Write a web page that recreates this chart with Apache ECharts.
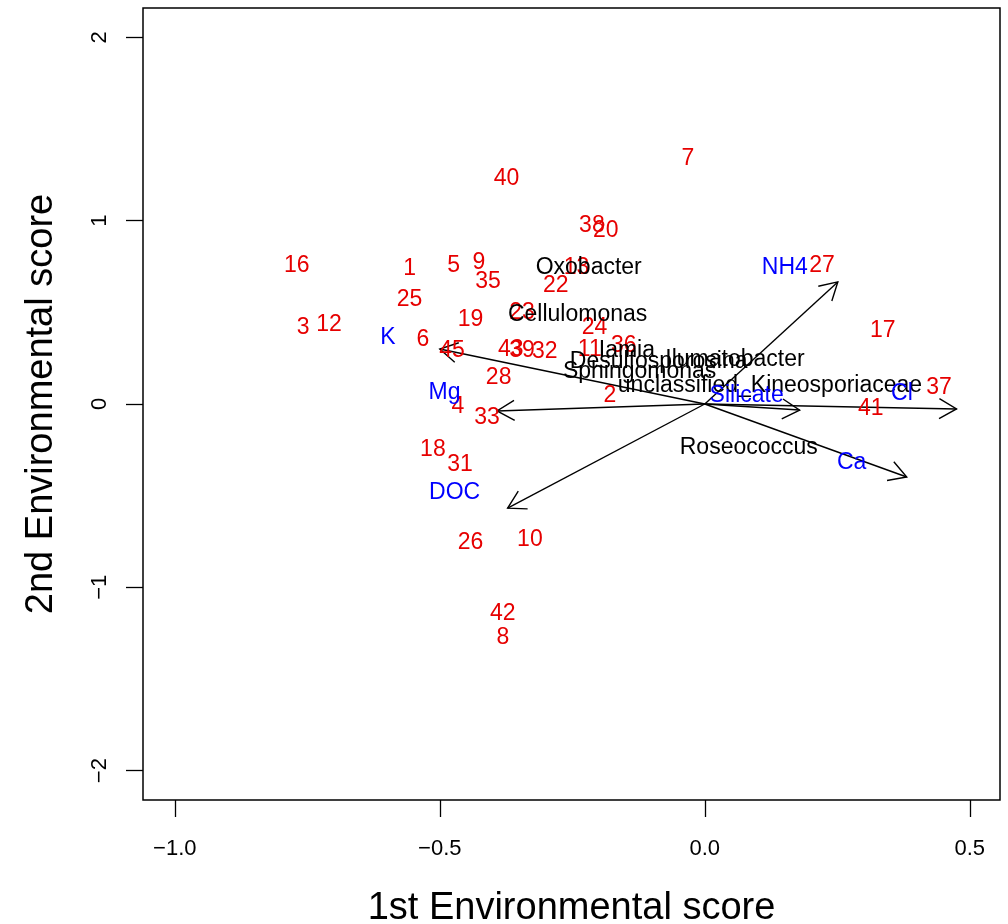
<!DOCTYPE html>
<html>
<head>
<meta charset="utf-8">
<script src="https://cdn.jsdelivr.net/npm/echarts@6/dist/echarts.min.js"></script>
<style>html,body{margin:0;padding:0;background:#fff}#c{width:1008px;height:924px}</style>
</head>
<body>
<div id="c"></div>
<script>
// Sample scores (red numbers)
const sampleLabels = ['16','1','5','9','35','25','3','12','6','45','19','40','38','20','7','13','22','23','24','11','36','43','39','32','28','2','4','33','18','31','26','10','42','8','27','17','37','41'];
const sampleX = [-0.770,-0.557,-0.474,-0.426,-0.409,-0.557,-0.758,-0.709,-0.532,-0.477,-0.442,-0.374,-0.213,-0.187,-0.032,-0.242,-0.281,-0.345,-0.208,-0.217,-0.153,-0.366,-0.345,-0.302,-0.389,-0.179,-0.466,-0.411,-0.513,-0.462,-0.442,-0.330,-0.381,-0.381,0.221,0.336,0.442,0.313];
const sampleY = [0.764,0.748,0.764,0.780,0.677,0.578,0.426,0.442,0.360,0.300,0.469,1.239,0.982,0.955,1.348,0.753,0.655,0.508,0.426,0.306,0.327,0.306,0.300,0.295,0.153,0.055,-0.005,-0.065,-0.240,-0.322,-0.748,-0.731,-1.135,-1.261,0.764,0.409,0.098,-0.016];

// Genus scores (black text)
const genusLabels = ['Oxobacter','Cellulomonas','Iamia','Desulfosporosina','Ilumatobacter','Sphingomonas','unclassified_Kineosporiaceae','Roseococcus'];
const genusX = [-0.219,-0.240,-0.147,-0.087,0.057,-0.123,0.123,0.083];
const genusY = [0.753,0.497,0.300,0.240,0.251,0.186,0.109,-0.229];

// Environmental vectors (blue labels, black arrows)
const envLabels = ['NH4','K','Mg','Silicate','Cl','Ca','DOC'];
const envArrowX = [0.251,-0.500,-0.392,0.179,0.475,0.381,-0.372];
const envArrowY = [0.666,0.300,-0.038,-0.033,-0.027,-0.398,-0.568];
const envLabelX = [0.151,-0.598,-0.491,0.079,0.372,0.277,-0.472];
const envLabelY = [0.753,0.371,0.071,0.055,0.065,-0.311,-0.475];

// Axis ticks
const xTicks = [-1.0,-0.5,0.0,0.5];
const yTicks = [-2,-1,0,1,2];

const FONT = "'Liberation Sans', Arial, Helvetica, sans-serif";

function textSeries(labels, xs, ys, color) {
  return {
    type: 'scatter',
    symbolSize: 0,
    silent: true,
    z: 5,
    itemStyle: {opacity: 1},
    data: labels.map((l, i) => [xs[i], ys[i], l]),
    label: {
      show: true,
      position: 'inside',
      offset: [0, 2],
      formatter: p => p.data[2],
      color: color,
      opacity: 1,
      fontSize: 23,
      fontFamily: FONT
    }
  };
}

const chart = echarts.init(document.getElementById('c'), null, {renderer: 'canvas'});
chart.setOption({
  animation: false,
  backgroundColor: '#fff',
  grid: {left: 143, right: 8, top: 8, bottom: 124, containLabel: false, outerBoundsMode: 'none',
    show: true, borderColor: '#000', borderWidth: 1.5, backgroundColor: 'transparent'},
  xAxis: {
    type: 'value', min: -1.06, max: 0.557,
    axisLine: {show: false, onZero: false},
    splitLine: {show: false},
    axisTick: {show: true, inside: false, length: 17, lineStyle: {color: '#000', width: 1.3}, customValues: xTicks},
    axisLabel: {customValues: xTicks, margin: 38, color: '#000', fontSize: 22, fontFamily: FONT,
      formatter: v => (v < 0 ? '\u2212' : '') + Math.abs(v).toFixed(1)},
    name: '1st Environmental score', nameLocation: 'middle', nameGap: 90,
    nameTextStyle: {color: '#000', fontSize: 38, fontFamily: FONT}
  },
  yAxis: {
    type: 'value', min: -2.16, max: 2.16,
    axisLine: {show: false, onZero: false},
    splitLine: {show: false},
    axisTick: {show: true, inside: false, length: 17, lineStyle: {color: '#000', width: 1.3}, customValues: yTicks},
    axisLabel: {customValues: yTicks, margin: 32, rotate: 90, color: '#000', fontSize: 22, fontFamily: FONT,
      formatter: v => (v < 0 ? '\u2212' : '') + Math.abs(v)},
    name: '2nd Environmental score', nameLocation: 'middle', nameGap: 82,
    nameTextStyle: {color: '#000', fontSize: 38, fontFamily: FONT}
  },
  series: [
    {
      type: 'custom',
      silent: true,
      z: 3,
      data: envArrowX.map((x, i) => [x, envArrowY[i]]),
      renderItem: function (params, api) {
        const o = api.coord([0, 0]);
        const e = api.coord([api.value(0), api.value(1)]);
        const ang = Math.atan2(e[1] - o[1], e[0] - o[0]);
        const L = 20, a = Math.PI / 6;
        const p1 = [e[0] - L * Math.cos(ang - a), e[1] - L * Math.sin(ang - a)];
        const p2 = [e[0] - L * Math.cos(ang + a), e[1] - L * Math.sin(ang + a)];
        const st = {stroke: '#000', lineWidth: 1.4, fill: null};
        return {
          type: 'group',
          children: [
            {type: 'line', shape: {x1: o[0], y1: o[1], x2: e[0], y2: e[1]}, style: st},
            {type: 'polyline', shape: {points: [p1, e, p2]}, style: st}
          ]
        };
      }
    },
    textSeries(sampleLabels, sampleX, sampleY, '#e60000'),
    textSeries(genusLabels, genusX, genusY, '#000'),
    textSeries(envLabels, envLabelX, envLabelY, '#0000ff')
  ]
});
</script>
</body>
</html>
